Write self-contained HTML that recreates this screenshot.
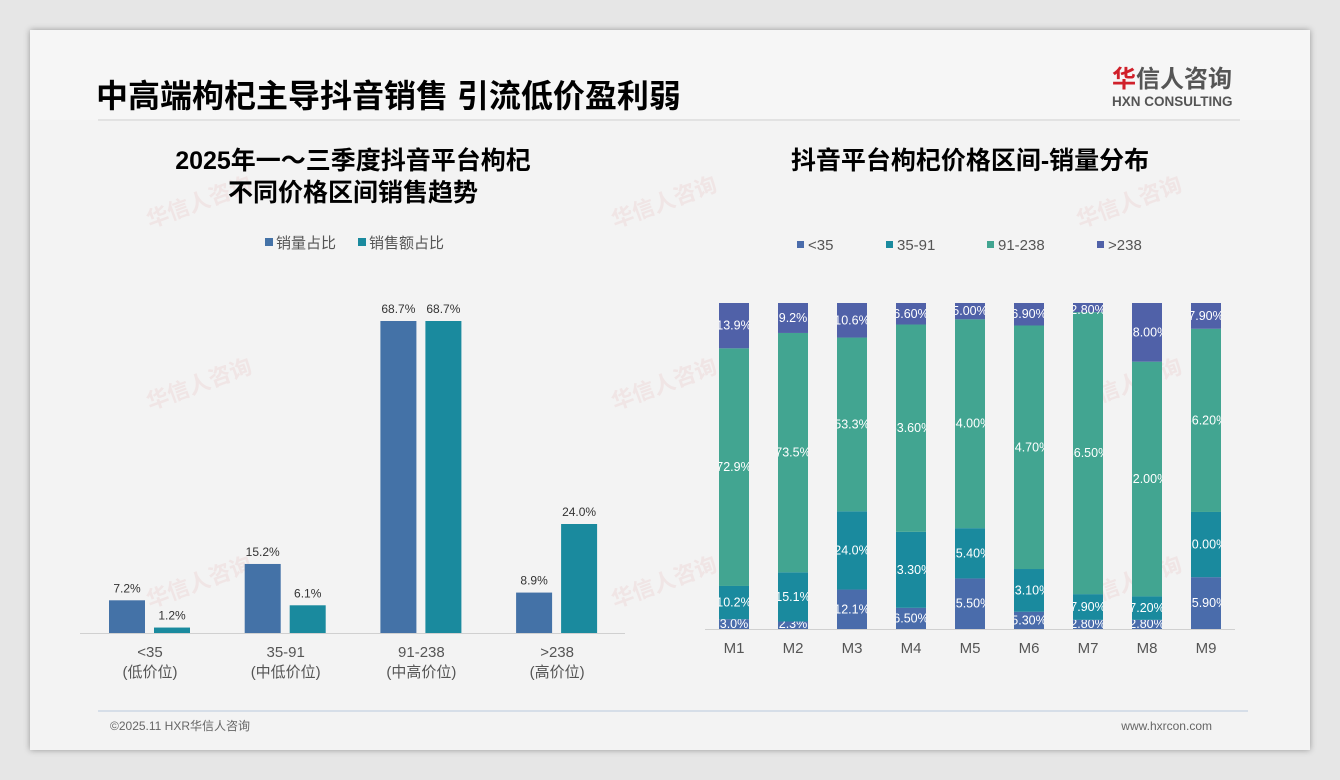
<!DOCTYPE html>
<html><head><meta charset="utf-8">
<style>
html,body{margin:0;padding:0;width:1340px;height:780px;overflow:hidden;background:#e6e6e6;font-family:"Liberation Sans","Noto Sans CJK SC",sans-serif;}
#card{position:absolute;left:30px;top:30px;width:1280px;height:720px;background:#f3f3f3;box-shadow:0 0 6px rgba(0,0,0,0.35);}
svg text{font-family:"Liberation Sans","Noto Sans CJK SC",sans-serif;}
</style></head>
<body>
<div id="card"></div>
<svg id="s" width="1340" height="780" style="position:absolute;left:0;top:0">
<rect x="30" y="30" width="1280" height="90" fill="#f6f6f6"/>
<text x="96" y="107" font-size="32" font-weight="bold" fill="#000">中高端枸杞主导抖音销售 引流低价盈利弱</text>
<line x1="98" y1="120" x2="1240" y2="120" stroke="#dcdcdc" stroke-width="1.5"/>
<g>
<text x="1112" y="87" font-size="24" font-weight="bold" fill="#555"><tspan fill="#d0202a">华</tspan>信人咨询</text>
<text x="1112" y="106" font-size="13.5" font-weight="bold" fill="#555">HXN CONSULTING</text>
</g>
<g fill="#ecd4d4" opacity="0.45" font-size="22" font-weight="bold">
<text transform="translate(150,228) rotate(-20)">华信人咨询</text>
<text transform="translate(150,410) rotate(-20)">华信人咨询</text>
<text transform="translate(150,608) rotate(-20)">华信人咨询</text>
<text transform="translate(615,228) rotate(-20)">华信人咨询</text>
<text transform="translate(615,410) rotate(-20)">华信人咨询</text>
<text transform="translate(615,608) rotate(-20)">华信人咨询</text>
<text transform="translate(1080,228) rotate(-20)">华信人咨询</text>
<text transform="translate(1080,410) rotate(-20)">华信人咨询</text>
<text transform="translate(1080,608) rotate(-20)">华信人咨询</text>
</g>
<text x="353" y="169" font-size="25" font-weight="bold" text-anchor="middle">2025年一～三季度抖音平台枸杞</text>
<text x="353" y="201" font-size="25" font-weight="bold" text-anchor="middle">不同价格区间销售趋势</text>
<text x="970" y="169" font-size="25" font-weight="bold" text-anchor="middle">抖音平台枸杞价格区间-销量分布</text>
<g>
<rect x="265" y="238" width="8" height="8" fill="#4472a7"/>
<text x="276" y="248" font-size="15" fill="#555">销量占比</text>
<rect x="358" y="238" width="8" height="8" fill="#1a8a9e"/>
<text x="369" y="248" font-size="15" fill="#555">销售额占比</text>
</g>
<g id="left"></g>
<g id="right"></g>
<line x1="98" y1="711" x2="1248" y2="711" stroke="#b8c8dc" stroke-width="1"/>
<text x="110" y="730" font-size="12" fill="#666">©2025.11 HXR华信人咨询</text>
<text x="1212" y="730" font-size="12" fill="#666" text-anchor="end">www.hxrcon.com</text>
</svg>
<script>
const leftCats = ["<35","35-91","91-238",">238"];
const leftSub = ["(低价位)","(中低价位)","(中高价位)","(高价位)"];
const volumeShare = [7.2,15.2,68.7,8.9];
const revenueShare = [1.2,6.1,68.7,24.0];
const months = ["M1","M2","M3","M4","M5","M6","M7","M8","M9"];
const segLt35 = [3.0,2.3,12.1,6.5,15.5,5.3,2.8,2.8,15.9];
const seg35_91 = [10.2,15.1,24.0,23.3,15.4,13.1,7.9,7.2,20.0];
const seg91_238 = [72.9,73.5,53.3,63.6,64.0,74.7,86.5,72.0,56.2];
const segGt238 = [13.9,9.2,10.6,6.6,5.0,6.9,2.8,18.0,7.9];
const segLabels = [
 ["3.0%","2.3%","12.1%","6.50%","15.50%","5.30%","2.80%","2.80%","15.90%"],
 ["10.2%","15.1%","24.0%","23.30%","15.40%","13.10%","7.90%","7.20%","20.00%"],
 ["72.9%","73.5%","53.3%","63.60%","64.00%","74.70%","86.50%","72.00%","56.20%"],
 ["13.9%","9.2%","10.6%","6.60%","5.00%","6.90%","2.80%","18.00%","7.90%"]
];
const segNames = ["<35","35-91","91-238",">238"];
const NS="http://www.w3.org/2000/svg";
function mk(tag,attrs,parent){const e=document.createElementNS(NS,tag);for(const k in attrs)e.setAttribute(k,attrs[k]);parent.appendChild(e);return e;}
const L=document.getElementById('left');
const lBase=633, lScale=312/68.7;
const ly=v=>lBase-v*lScale;
const lx=i=>85+i*135.7;
mk('line',{x1:80,y1:633.5,x2:625,y2:633.5,stroke:'#d0d0d0'},L);
leftCats.forEach((c,i)=>{
  const gx=lx(i);
  const x1=gx+24, x2=gx+69;
  let r=mk('rect',{x:x1,y:ly(volumeShare[i]),width:36,height:volumeShare[i]*lScale,fill:'#4472a7'},L);
  
  
  let t=mk('text',{x:x1+18,y:ly(volumeShare[i])-8,'font-size':12,fill:'#333','text-anchor':'middle'},L);
  t.textContent=volumeShare[i].toFixed(1)+'%';
  
  
  r=mk('rect',{x:x2,y:ly(revenueShare[i]),width:36,height:revenueShare[i]*lScale,fill:'#1a8a9e'},L);
  
  
  t=mk('text',{x:x2+18,y:ly(revenueShare[i])-8,'font-size':12,fill:'#333','text-anchor':'middle'},L);
  t.textContent=revenueShare[i].toFixed(1)+'%';
  
  
  const cx=gx+65;
  t=mk('text',{x:cx,y:657,'font-size':15,fill:'#555','text-anchor':'middle'},L);
  t.textContent=c;
  
  
  t=mk('text',{x:cx,y:677,'font-size':15,fill:'#555','text-anchor':'middle'},L);
  t.textContent=leftSub[i];
  
  
});
const R=document.getElementById('right');
const rBase=629, rTop=303, rH=rBase-rTop;
const rx=i=>734+i*59;
const segColors=['#4a6cab','#1a8a9e','#42a591','#5061a8'];
const legX=[797,886,987,1097];
segNames.forEach((n,k)=>{
  let r=mk('rect',{x:legX[k],y:241,width:7,height:7,fill:segColors[k]},R);
  
  
  let t=mk('text',{x:legX[k]+11,y:250,'font-size':15,fill:'#555'},R);
  t.textContent=n;
  
  
});
const defs=mk('defs',{},R);
mk('line',{x1:705,y1:629.5,x2:1235,y2:629.5,stroke:'#d0d0d0'},R);
const series=[segLt35,seg35_91,seg91_238,segGt238];
months.forEach((m,i)=>{
  const cx=rx(i), w=30;
  const cp=mk('clipPath',{id:'cp'+i},defs);
  mk('rect',{x:cx-w/2,y:rTop-5,width:w,height:rH+10},cp);
  const tot=series.reduce((s,a)=>s+a[i],0);
  let acc=0;
  series.forEach((arr,k)=>{
    const h=arr[i]/tot*rH;
    const y=rBase-acc-h;
    let r=mk('rect',{x:cx-w/2,y:y,width:w,height:h,fill:segColors[k]},R);
    
    
    let ty=y+h/2+4;
    if(h<14) ty=y+h-1;
    if(k==3&&h<14) ty=y+11;
    let t=mk('text',{x:cx,y:ty,'font-size':12.5,fill:'#fff','text-anchor':'middle','clip-path':'url(#cp'+i+')'},R);
    t.textContent=segLabels[k][i];
    
    
    acc+=h;
  });
  let t=mk('text',{x:cx,y:653,'font-size':15,fill:'#555','text-anchor':'middle'},R);
  t.textContent=m;
  
  
});
</script>
</body></html>
